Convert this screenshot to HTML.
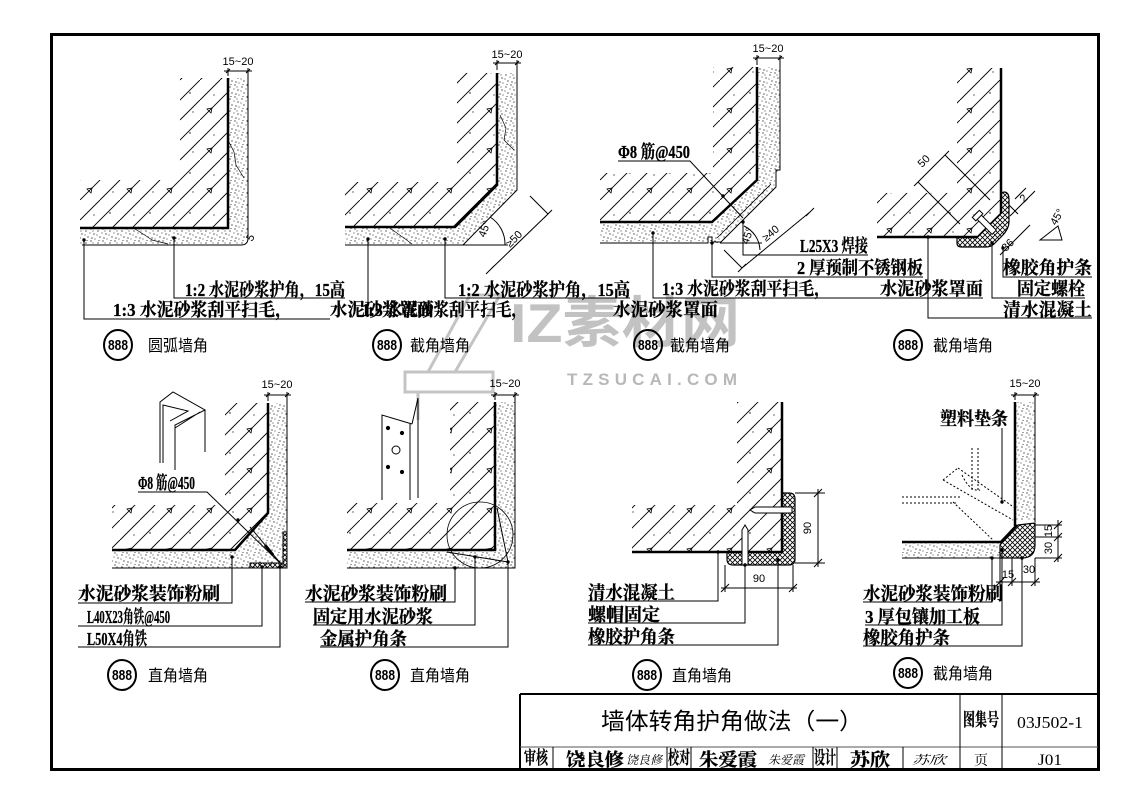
<!DOCTYPE html>
<html><head><meta charset="utf-8">
<style>
html,body{margin:0;padding:0;background:#fff;}
svg{display:block;}
.t{font-family:"Liberation Serif","Noto Serif CJK SC",serif;font-weight:bold;font-size:18px;fill:#000;stroke:#000;stroke-width:0.3;}
.d{font-family:"Liberation Sans",sans-serif;font-size:11px;fill:#000;}
.c{font-family:"Liberation Sans","Noto Sans CJK SC",sans-serif;font-size:16px;fill:#000;}
.n{font-family:"Liberation Sans","Noto Sans CJK SC",sans-serif;font-weight:bold;font-size:15px;fill:#000;}
.s{font-family:"Liberation Serif","Noto Serif CJK SC",serif;font-style:italic;font-size:12px;fill:#000;}
.r{font-family:"Liberation Serif","Noto Serif CJK SC",serif;font-weight:normal;fill:#000;}
</style></head><body>
<svg width="1139" height="805" viewBox="0 0 1139 805" xmlns="http://www.w3.org/2000/svg">
<defs>
<pattern id="con" width="40" height="40" patternUnits="userSpaceOnUse">
<path d="M0 20L20 0M0 40L40 0M20 40L40 20" stroke="#000" stroke-width="0.9"/>
<path d="M7 29l5 -1 -1 5z" fill="none" stroke="#000" stroke-width="0.8"/>
<circle cx="30" cy="13" r="0.7"/><circle cx="14" cy="15" r="0.6"/><circle cx="33" cy="32" r="0.6"/>
</pattern>
<pattern id="mor" width="12" height="12" patternUnits="userSpaceOnUse">
<circle cx="2" cy="3" r="0.6"/><circle cx="7" cy="1" r="0.6"/><circle cx="10" cy="6" r="0.6"/><circle cx="4" cy="9" r="0.6"/><circle cx="8" cy="10" r="0.6"/><circle cx="1" cy="7" r="0.5"/><circle cx="6" cy="5" r="0.5"/><circle cx="11" cy="11" r="0.5"/><circle cx="3" cy="0.5" r="0.5"/><circle cx="9" cy="3" r="0.5"/>
</pattern>
<pattern id="xh" width="5" height="5" patternUnits="userSpaceOnUse">
<path d="M0 0L5 5M5 0L0 5" stroke="#000" stroke-width="0.8"/>
</pattern>
</defs>

<!-- watermark -->
<g fill="none" stroke="#c4c4c4" stroke-width="3">
<path d="M405 372H493V392H405Z"/>
<path d="M470 295H500L455 372H428Z"/>
<path d="M418 392V420"/>
</g>
<text x="510" y="342" font-family="Liberation Sans,Noto Sans CJK SC,sans-serif" font-weight="bold" font-size="55" fill="#c2c2c2" textLength="230" lengthAdjust="spacingAndGlyphs">IZ素材网</text>
<text x="567" y="385" font-family="Liberation Sans,sans-serif" font-weight="bold" font-size="17" fill="#b8b8b8" textLength="170" lengthAdjust="spacing">TZSUCAI.COM</text>

<!-- frame -->
<rect x="51.5" y="34.5" width="1047" height="735" fill="none" stroke="#000" stroke-width="3"/>

<g stroke="#000" fill="none" stroke-width="1">
<!-- ============ Panel 1 ============ -->
<polygon points="180,78 228,78 228,228 80,228 80,180 180,180" fill="url(#con)" stroke="none"/>
<polygon points="228,78 248,78 248,238 241,245 80,245 80,228 228,228" fill="url(#mor)" stroke="none"/>
<path d="M228 78V228H80" stroke-width="2.5"/>
<path d="M248 68V238Q248 245 241 245H82"/>
<path d="M228 140L234 152L236 165L244 178M135 229Q145 235 152 240L168 244" stroke-width="0.7"/>
<path d="M228 68V76M224 71H252M226 73L230 69M246 73L250 69"/>
<path d="M84 240V319H330M174 238V298H345"/>

<!-- ============ Panel 2 ============ -->
<polygon points="457,73 497,73 497,185 455,227 345,227 345,182 457,182" fill="url(#con)" stroke="none"/>
<polygon points="497,73 517,73 517,190 463,245 345,245 345,227 455,227 497,185" fill="url(#mor)" stroke="none"/>
<path d="M497 73V185L455 227H345" stroke-width="2.5"/>
<path d="M517 60V190L463 245H345"/>
<path d="M500 115L506 128L504 140L514 150M390 228Q398 234 404 238L412 244" stroke-width="0.7"/>
<path d="M497 60V70M493 63H521M495 65L499 61M515 65L519 61"/>
<path d="M463 245H508M490 217A32 32 0 0 1 505 245"/>
<path d="M490 270L548 214M486 274L494 266M544 218L552 210M548 214L530 196"/>
<path d="M368 239V317M445 239V298H630"/>

<!-- ============ Panel 3 ============ -->
<polygon points="713,67 757,67 757,180 712,222 600,222 600,173 713,173" fill="url(#con)" stroke="none"/>
<polygon points="757,67 780,67 780,170 775,175 775,187 720,243 600,243 600,222 712,222 757,180" fill="url(#mor)" stroke="none"/>
<path d="M757 67V180L712 222H600" stroke-width="2.5"/>
<path d="M780 55V170H776V187L721 242H712V237H708V243H600"/>
<path d="M771 184L717 238" stroke-width="0.8"/>
<path d="M757 55V65M753 58H784M755 60L759 56M778 60L782 56"/>
<path d="M618 161H690L743 218"/>
<path d="M720 243H762M744 226A28 28 0 0 1 760 250"/>
<path d="M742 268L810 212M738 272L746 264M806 216L814 208M742 268L724 250"/>
<path d="M743 222V255H868M712 243V277H923M653 233V298H983"/>

<!-- ============ Panel 4 ============ -->
<polygon points="957,68 1001,68 1001,213 977,237 877,237 877,193 957,193" fill="url(#con)" stroke="none"/>
<path d="M1001 68V213M877 237H977" stroke-width="2.5"/>
<path d="M977 237L1001 213"/>
<path d="M1001 196Q1001 192 1005 192Q1009 193 1009 199V222Q1009 229 1002 236L994 244Q991 247 986 247H961Q957 247 957 243V237H977L1001 213Z" fill="url(#xh)" stroke-width="1.2"/>
<g transform="rotate(45 985 223)"><rect x="972" y="220" width="26" height="6" fill="#fff" stroke="#000"/><rect x="972" y="218" width="5" height="10" fill="#fff" stroke="#000"/></g>
<path d="M918 182L945 155M914 186L922 178M941 159L949 151M918 182L960 224M945 155L990 200"/>
<path d="M1013 213L1032 194M1010 216L1016 210M1029 197L1035 191M1009 205L1018 214M1015 199L1026 188"/>
<path d="M1003 252L1027 228M1000 255L1006 249M1024 231L1030 225"/>
<path d="M1040 240L1058 226L1062 240Z"/>
<path d="M928 237V318H1092M992 243V298H1085M1003 248V277H1092"/>

<!-- ============ Panel 5 ============ -->
<polygon points="225,403 268,403 268,513 235,550 112,550 112,505 225,505" fill="url(#con)" stroke="none"/>
<polygon points="268,403 287,403 287,568 112,568 112,550 235,550 268,513" fill="url(#mor)" stroke="none"/>
<path d="M268 403V513L235 550H112" stroke-width="2.5"/>
<path d="M287 392V568H112"/>
<rect x="283" y="532" width="4" height="36" fill="url(#xh)"/>
<rect x="250" y="563" width="33" height="5" fill="url(#xh)"/>
<path d="M250 527L282 565"/>
<path d="M265 545L273 555" stroke-width="3"/>
<path d="M268 392V401M264 395H291M266 397L270 393M285 397L289 393"/>
<path d="M160 463V402L173 392L205 410L175 425V470M163 463V405L188 411L170 421M175 470V428L200 412M205 410V452"/>
<path d="M138 492H207L280 563"/>
<path d="M232 557V603H78M262 567V626H78M280 567V647H78"/>

<!-- ============ Panel 6 ============ -->
<polygon points="450,402 495,402 495,550 347,550 347,503 450,503" fill="url(#con)" stroke="none"/>
<polygon points="495,402 515,402 515,568 347,568 347,550 495,550" fill="url(#mor)" stroke="none"/>
<path d="M495 402V550H347" stroke-width="2.5"/>
<path d="M515 392V568H347"/>
<circle cx="480" cy="535" r="33" stroke-width="0.8"/>
<path d="M497 508L508 562L447 552"/>
<path d="M495 392V400M491 395H519M493 397L497 393M513 397L517 393"/>
<path d="M382 500V415L412 424M418 398V498M412 424L418 398M410 424V500"/>
<circle cx="388" cy="428" r="1.6" fill="#000"/><circle cx="402" cy="433" r="1.6" fill="#000"/>
<circle cx="396" cy="450" r="4"/><circle cx="388" cy="467" r="1.6" fill="#000"/><circle cx="402" cy="472" r="1.6" fill="#000"/>
<path d="M455 568V602H305M475 557V625H313M508 562V647H320"/>

<!-- ============ Panel 7 ============ -->
<polygon points="737,402 782,402 782,552 632,552 632,505 737,505" fill="url(#con)" stroke="none"/>
<path d="M782 402V552H632" stroke-width="2.5"/>
<path d="M782 493H789Q795 493 795 499V559Q795 565 789 565H733Q727 565 727 559V552H782Z" fill="url(#xh)" stroke-width="1.2"/>
<path d="M755 507H792V513H755L750 510Z" fill="#fff"/>
<path d="M742 565V530L745 525L748 530V565Z" fill="#fff"/>
<path d="M795 493H825M795 563H825M818 489V567M814 497L822 489M814 567L822 559"/>
<path d="M725 565V592M793 565V592M721 588H797M721 592L729 584M789 592L797 584"/>
<path d="M718 552V601H588M745 565V623H588M778 560V645H588"/>

<!-- ============ Panel 8 ============ -->
<polygon points="1015,402 1035,402 1035,520 1015,520" fill="url(#mor)" stroke="none"/>
<polygon points="902,542 1000,542 1000,558 902,558" fill="url(#mor)" stroke="none"/>
<path d="M1015 402V526M902 542H1001" stroke-width="2.5"/>
<path d="M1035 392V522M902 558H1000"/>
<path d="M1000 558V545L1018 525L1035 523V545Q1035 558 1022 558Z" fill="url(#xh)" stroke-width="1.2"/>
<path d="M1000 543L1017 525" stroke-width="2.5"/>
<path d="M1015 392V400M1011 395H1039M1013 397L1017 393M1033 397L1037 393"/>
<g stroke-dasharray="2 2" stroke-width="1">
<path d="M972 448V490M978 448V490M902 497H962M902 503H958"/>
<path d="M943 480L1013 520M958 468L1015 508M953 502L993 540M943 480L958 468"/>
<path d="M962 475Q970 492 980 490"/>
</g>
<path d="M1002 428V502"/>
<path d="M1035 525H1062M1035 537H1062M1035 558H1062M1058 520V562M1054 529L1062 521M1054 541L1062 533M1054 562L1062 554"/>
<path d="M1000 558V586M1012 558V586M1035 558V586M996 582H1040M996 586L1004 578M1008 586L1016 578M1031 586L1039 578"/>
<path d="M992 558V602H863M1002 550V625H865M1022 558V646H863"/>

<!-- title block -->
<path d="M520 694V770M520 694H1098" stroke-width="2"/>
<path d="M520 747H1098" stroke="#555"/>
<path d="M960 694V770M1002 694V770M553 747V770M667 747V770M691 747V770M813 747V770M837 747V770M903 747V770"/>
</g>

<!-- leader dots -->
<g fill="#000">
<circle cx="84" cy="240" r="1.7"/><circle cx="174" cy="238" r="1.7"/>
<circle cx="368" cy="239" r="1.7"/><circle cx="445" cy="239" r="1.7"/>
<circle cx="653" cy="233" r="1.7"/><circle cx="723" cy="196" r="1.7"/><circle cx="743" cy="222" r="1.7"/><circle cx="712" cy="243" r="1.7"/>
<circle cx="928" cy="237" r="1.7"/><circle cx="992" cy="243" r="1.7"/><circle cx="1003" cy="248" r="1.7"/>
<circle cx="238" cy="520" r="1.7"/><circle cx="232" cy="557" r="1.7"/><circle cx="262" cy="567" r="1.7"/><circle cx="280" cy="567" r="1.7"/>
<circle cx="455" cy="568" r="1.7"/><circle cx="475" cy="557" r="1.7"/><circle cx="508" cy="562" r="1.7"/>
<circle cx="718" cy="552" r="1.7"/><circle cx="745" cy="565" r="1.7"/><circle cx="778" cy="560" r="1.7"/>
<circle cx="1002" cy="502" r="1.7"/><circle cx="992" cy="558" r="1.7"/><circle cx="1002" cy="550" r="1.7"/><circle cx="1022" cy="558" r="1.7"/>
</g>

<!-- dimension texts -->
<text class="d" x="238" y="65" text-anchor="middle">15~20</text>
<text class="d" x="252" y="242" transform="rotate(-60 252 242)">5</text>
<text class="d" x="507" y="58" text-anchor="middle">15~20</text>
<text class="d" x="485" y="238" transform="rotate(-70 485 238)">45°</text>
<text class="d" x="510" y="248" transform="rotate(-45 510 248)">≥50</text>
<text class="d" x="768" y="52" text-anchor="middle">15~20</text>
<text class="d" x="748" y="245" transform="rotate(-70 748 245)">45°</text>
<text class="d" x="766" y="242" transform="rotate(-40 766 242)">≥40</text>
<text class="d" x="922" y="168" transform="rotate(-45 922 168)">50</text>
<text class="d" x="1024" y="203" transform="rotate(-45 1024 203)">2</text>
<text class="d" x="1006" y="252" transform="rotate(-45 1006 252)">36</text>
<text class="d" x="1056" y="226" transform="rotate(-60 1056 226)">45°</text>
<text class="d" x="277" y="388" text-anchor="middle">15~20</text>
<text class="d" x="505" y="387" text-anchor="middle">15~20</text>
<text class="d" x="811" y="528" transform="rotate(-90 811 528)" text-anchor="middle">90</text>
<text class="d" x="759" y="582" text-anchor="middle">90</text>
<text class="d" x="1025" y="387" text-anchor="middle">15~20</text>
<text class="d" x="1052" y="531" transform="rotate(-90 1052 531)" text-anchor="middle">15</text>
<text class="d" x="1052" y="548" transform="rotate(-90 1052 548)" text-anchor="middle">30</text>
<text class="d" x="1008" y="578" text-anchor="middle">15</text>
<text class="d" x="1029" y="573" text-anchor="middle">30</text>

<!-- labels row 1 -->
<text class="t" x="185" y="296" textLength="160" lengthAdjust="spacingAndGlyphs">1:2 水泥砂浆护角，15高</text>
<text class="t" x="113" y="316" textLength="179" lengthAdjust="spacingAndGlyphs">1:3 水泥砂浆刮平扫毛，</text>
<text class="t" x="458" y="296" textLength="172" lengthAdjust="spacingAndGlyphs">1:2  水泥砂浆护角，15高</text>
<text class="t" x="330" y="316" textLength="104" lengthAdjust="spacingAndGlyphs">水泥砂浆罩面</text>
<text class="t" x="362" y="316" textLength="165" lengthAdjust="spacingAndGlyphs">1:3 水泥砂浆刮平扫毛，</text>
<text class="t" x="618" y="158" font-size="16" textLength="72" lengthAdjust="spacingAndGlyphs">Φ8 筋@450</text>
<text class="t" x="800" y="252" textLength="68" lengthAdjust="spacingAndGlyphs">L25X3 焊接</text>
<text class="t" x="797" y="274" textLength="126" lengthAdjust="spacingAndGlyphs">2 厚预制不锈钢板</text>
<text class="t" x="662" y="295" textLength="168" lengthAdjust="spacingAndGlyphs">1:3 水泥砂浆刮平扫毛，</text>
<text class="t" x="613" y="316" textLength="105" lengthAdjust="spacingAndGlyphs">水泥砂浆罩面</text>
<text class="t" x="880" y="295" textLength="103" lengthAdjust="spacingAndGlyphs">水泥砂浆罩面</text>
<text class="t" x="1003" y="274" textLength="89" lengthAdjust="spacingAndGlyphs">橡胶角护条</text>
<text class="t" x="1017" y="295" textLength="68" lengthAdjust="spacingAndGlyphs">固定螺栓</text>
<text class="t" x="1003" y="316" textLength="89" lengthAdjust="spacingAndGlyphs">清水混凝土</text>

<!-- labels row 2 -->
<text class="t" x="138" y="489" font-size="16" textLength="57" lengthAdjust="spacingAndGlyphs">Φ8 筋@450</text>
<text class="t" x="78" y="600" textLength="142" lengthAdjust="spacingAndGlyphs">水泥砂浆装饰粉刷</text>
<text class="t" x="87" y="623" font-size="16" textLength="83" lengthAdjust="spacingAndGlyphs">L40X23角铁@450</text>
<text class="t" x="87" y="645" textLength="60" lengthAdjust="spacingAndGlyphs">L50X4角铁</text>
<text class="t" x="305" y="600" textLength="142" lengthAdjust="spacingAndGlyphs">水泥砂浆装饰粉刷</text>
<text class="t" x="313" y="623" textLength="120" lengthAdjust="spacingAndGlyphs">固定用水泥砂浆</text>
<text class="t" x="320" y="645" textLength="87" lengthAdjust="spacingAndGlyphs">金属护角条</text>
<text class="t" x="588" y="599" textLength="87" lengthAdjust="spacingAndGlyphs">清水混凝土</text>
<text class="t" x="588" y="621" textLength="72" lengthAdjust="spacingAndGlyphs">螺帽固定</text>
<text class="t" x="588" y="643" textLength="87" lengthAdjust="spacingAndGlyphs">橡胶护角条</text>
<text class="t" x="940" y="425" textLength="68" lengthAdjust="spacingAndGlyphs">塑料垫条</text>
<text class="t" x="863" y="600" textLength="140" lengthAdjust="spacingAndGlyphs">水泥砂浆装饰粉刷</text>
<text class="t" x="865" y="623" textLength="115" lengthAdjust="spacingAndGlyphs">3 厚包镶加工板</text>
<text class="t" x="863" y="644" textLength="87" lengthAdjust="spacingAndGlyphs">橡胶角护条</text>

<!-- bubbles -->
<g fill="none" stroke="#000" stroke-width="2">
<ellipse cx="118" cy="345" rx="14" ry="15"/>
<ellipse cx="387" cy="345" rx="14" ry="15"/>
<ellipse cx="648" cy="345" rx="14" ry="15"/>
<ellipse cx="908" cy="345" rx="14" ry="15"/>
<ellipse cx="122" cy="675" rx="14" ry="15"/>
<ellipse cx="385" cy="675" rx="14" ry="15"/>
<ellipse cx="647" cy="675" rx="14" ry="15"/>
<ellipse cx="908" cy="673" rx="14" ry="15"/>
</g>
<text class="n" x="118" y="350" text-anchor="middle" textLength="20" lengthAdjust="spacingAndGlyphs">888</text>
<text class="n" x="387" y="350" text-anchor="middle" textLength="20" lengthAdjust="spacingAndGlyphs">888</text>
<text class="n" x="648" y="350" text-anchor="middle" textLength="20" lengthAdjust="spacingAndGlyphs">888</text>
<text class="n" x="908" y="350" text-anchor="middle" textLength="20" lengthAdjust="spacingAndGlyphs">888</text>
<text class="n" x="122" y="680" text-anchor="middle" textLength="20" lengthAdjust="spacingAndGlyphs">888</text>
<text class="n" x="385" y="680" text-anchor="middle" textLength="20" lengthAdjust="spacingAndGlyphs">888</text>
<text class="n" x="647" y="680" text-anchor="middle" textLength="20" lengthAdjust="spacingAndGlyphs">888</text>
<text class="n" x="908" y="678" text-anchor="middle" textLength="20" lengthAdjust="spacingAndGlyphs">888</text>
<text class="c" x="148" y="351" textLength="60" lengthAdjust="spacingAndGlyphs">圆弧墙角</text>
<text class="c" x="410" y="351" textLength="60" lengthAdjust="spacingAndGlyphs">截角墙角</text>
<text class="c" x="670" y="351" textLength="60" lengthAdjust="spacingAndGlyphs">截角墙角</text>
<text class="c" x="933" y="351" textLength="60" lengthAdjust="spacingAndGlyphs">截角墙角</text>
<text class="c" x="148" y="681" textLength="60" lengthAdjust="spacingAndGlyphs">直角墙角</text>
<text class="c" x="410" y="681" textLength="60" lengthAdjust="spacingAndGlyphs">直角墙角</text>
<text class="c" x="672" y="681" textLength="60" lengthAdjust="spacingAndGlyphs">直角墙角</text>
<text class="c" x="933" y="679" textLength="60" lengthAdjust="spacingAndGlyphs">截角墙角</text>

<!-- title block texts -->
<text x="732" y="729" text-anchor="middle" font-family="Liberation Sans,Noto Sans CJK SC,sans-serif" font-size="23" fill="#000" textLength="262" lengthAdjust="spacingAndGlyphs">墙体转角护角做法（一）</text>
<text class="t" x="981" y="726" font-size="13" text-anchor="middle" textLength="36" lengthAdjust="spacingAndGlyphs">图集号</text>
<text class="r" x="1050" y="728" font-size="17" text-anchor="middle" textLength="66" lengthAdjust="spacingAndGlyphs">03J502-1</text>
<text class="t" x="536" y="764" font-size="12" text-anchor="middle" textLength="24" lengthAdjust="spacingAndGlyphs">审核</text>
<text class="t" x="566" y="766" font-size="18" textLength="58" lengthAdjust="spacingAndGlyphs">饶良修</text>
<text class="s" x="626" y="764" textLength="36" lengthAdjust="spacingAndGlyphs">饶良修</text>
<text class="t" x="679" y="764" font-size="12" text-anchor="middle" textLength="22" lengthAdjust="spacingAndGlyphs">校对</text>
<text class="t" x="699" y="766" font-size="18" textLength="58" lengthAdjust="spacingAndGlyphs">朱爱霞</text>
<text class="s" x="768" y="764" textLength="36" lengthAdjust="spacingAndGlyphs">朱爱霞</text>
<text class="t" x="825" y="764" font-size="12" text-anchor="middle" textLength="22" lengthAdjust="spacingAndGlyphs">设计</text>
<text class="t" x="850" y="766" font-size="18" textLength="40" lengthAdjust="spacingAndGlyphs">苏欣</text>
<text class="s" x="912" y="764" textLength="34" lengthAdjust="spacingAndGlyphs">苏欣</text>
<text class="r" x="981" y="765" font-size="14" text-anchor="middle">页</text>
<text class="r" x="1050" y="765" font-size="16" text-anchor="middle" textLength="24" lengthAdjust="spacingAndGlyphs">J01</text>
</svg>
</body></html>
